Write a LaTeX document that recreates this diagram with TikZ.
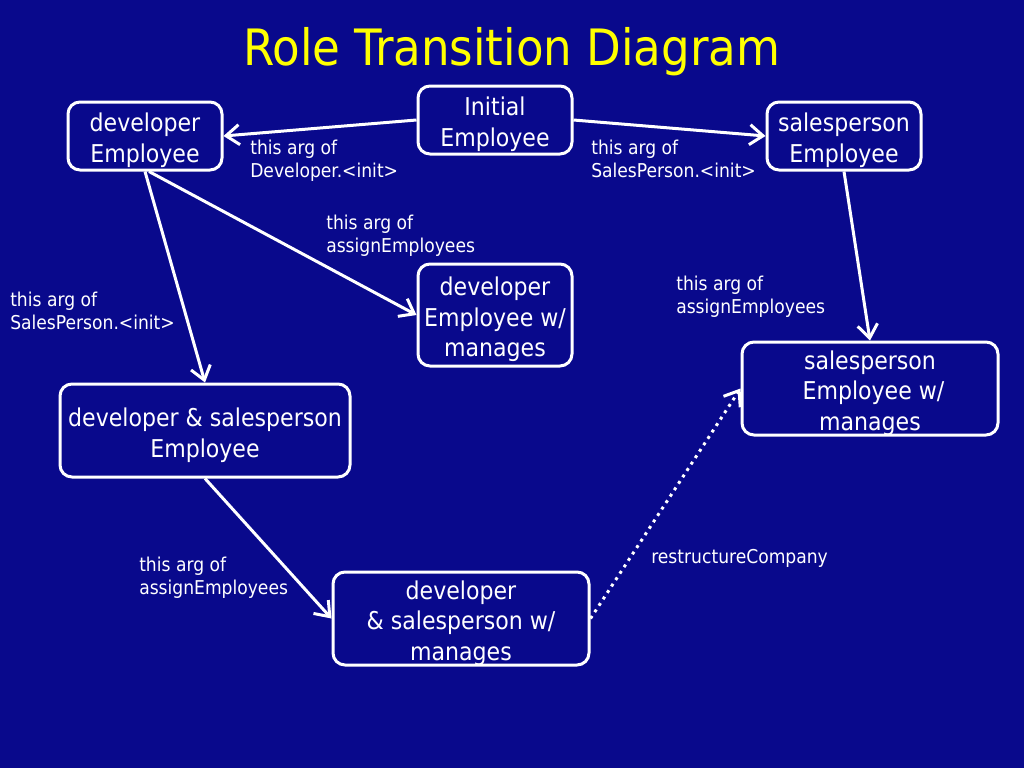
\documentclass[tikz,border=0pt]{standalone}
\usepackage{fontspec}
\setmainfont{DejaVu Sans Condensed}
\usetikzlibrary{arrows.meta}
\definecolor{bgblue}{RGB}{9,9,140}
\definecolor{ttlyellow}{RGB}{255,255,0}
\tikzset{
  statebox/.style={draw=white, line width=2.25pt, rounded corners=9pt, inner sep=0pt},
  boxtext/.style={text=white, align=center, inner sep=0pt, yshift=-3.3pt,
    font=\fontsize{18.4}{23}\selectfont},
  lbl/.style={text=white, align=left, inner sep=0pt, anchor=north west,
    font=\fontsize{14.3}{17.4}\selectfont},
  conn/.style={draw=white, line width=2.25pt, -{Straight Barb[length=10pt,width=15pt,line width=2.25pt]}},
  dotconn/.style={conn, dash pattern=on 2.25pt off 3.5pt}
}
\begin{document}
\begin{tikzpicture}[x=0.75pt,y=-0.75pt]
\fill[bgblue] (0,0) rectangle (1024,768);
\useasboundingbox (0,0) rectangle (1024,768);
\node[text=ttlyellow, font=\fontsize{37.6}{42}\selectfont, inner sep=0pt] (title) at (512,52) {Role Transition Diagram};

\node[statebox, minimum width=154*0.75pt, minimum height=68*0.75pt,
  label={[boxtext]center:{Initial\\Employee}}] (init) at (495,120) {};
\node[statebox, minimum width=154*0.75pt, minimum height=68*0.75pt,
  label={[boxtext]center:{developer\\Employee}}] (dev) at (145,136) {};
\node[statebox, minimum width=154*0.75pt, minimum height=68*0.75pt,
  label={[boxtext]center:{salesperson\\Employee}}] (sales) at (844,136) {};
\node[statebox, minimum width=154*0.75pt, minimum height=102*0.75pt,
  label={[boxtext]center:{developer\\Employee w/\\manages}}] (devm) at (495,315) {};
\node[statebox, minimum width=256*0.75pt, minimum height=93*0.75pt,
  label={[boxtext]center:{salesperson\\\ Employee w/\\manages}}] (salesm) at (870,388.5) {};
\node[statebox, minimum width=290*0.75pt, minimum height=93*0.75pt,
  label={[boxtext]center:{developer \& salesperson\\Employee}}] (ds) at (205,430.5) {};
\node[statebox, minimum width=256*0.75pt, minimum height=93*0.75pt,
  label={[boxtext]center:{developer\\\& salesperson w/\\manages}}] (dsm) at (461,618.5) {};

\draw[conn] (init.west) -- (dev.east);
\draw[conn] (init.east) -- (sales.west);
\draw[conn] (dev.south) -- (ds.north);
\draw[conn] ([xshift=3pt]dev.south) -- (devm.west);
\draw[conn] (sales.south) -- (salesm.north);
\draw[conn] (ds.south) -- (dsm.west);
\draw[dotconn] (dsm.east) -- (salesm.west);

\node[lbl] (l1) at (250,140) {this arg of\\Developer.<init>};
\node[lbl] (l2) at (591,140) {this arg of\\SalesPerson.<init>};
\node[lbl] (l3) at (326,215) {this arg of\\assignEmployees};
\node[lbl] (l4) at (10,292) {this arg of\\SalesPerson.<init>};
\node[lbl] (l5) at (676,276) {this arg of\\assignEmployees};
\node[lbl] (l6) at (139,557) {this arg of\\assignEmployees};
\node[lbl] (l7) at (651,549) {restructureCompany};
\end{tikzpicture}
\end{document}
